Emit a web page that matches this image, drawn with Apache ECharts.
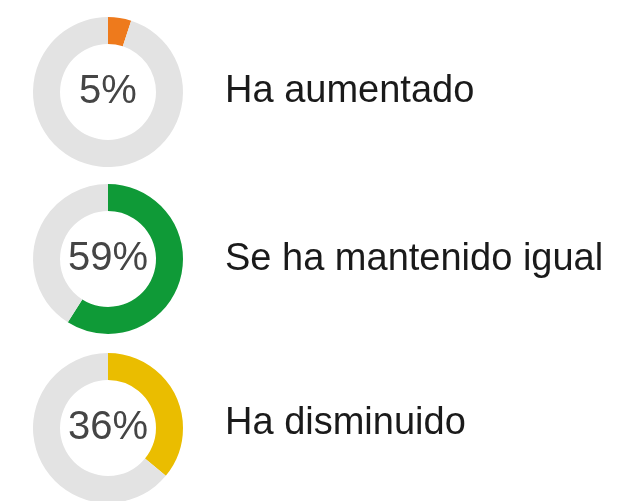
<!DOCTYPE html>
<html>
<head>
<meta charset="utf-8">
<script src="https://cdn.jsdelivr.net/npm/echarts@6/dist/echarts.min.js"></script>
<style>
  html, body { margin: 0; padding: 0; background: #fff; }
  #chart { width: 635px; height: 501px; }
</style>
</head>
<body>
<div id="chart"></div>
<script>
// categories and shares (%)
const categories = ["Ha aumentado", "Se ha mantenido igual", "Ha disminuido"];
const shares = [5, 59, 36];
const colors = ["#ee7a1c", "#0f9a37", "#eabd00"];

// layout
const ringY = [92, 259, 428];
const textY = [92, 260, 424];
const fontFamily = "Liberation Sans";

const chart = echarts.init(document.getElementById("chart"));

const series = categories.map(function (name, i) {
  return {
    type: "pie",
    name: name,
    center: [108, ringY[i]],
    radius: [48, 75],
    startAngle: 90,
    clockwise: true,
    silent: true,
    avoidLabelOverlap: false,
    labelLine: { show: false },
    data: [
      {
        value: shares[i],
        itemStyle: { color: colors[i] },
        label: {
          show: true,
          position: "center",
          formatter: shares[i] + "%",
          fontSize: 40,
          fontFamily: fontFamily,
          color: "#454545",
          padding: [3, 0, 0, 0]
        }
      },
      {
        value: 100 - shares[i],
        itemStyle: { color: "#e3e3e3" },
        label: { show: false }
      }
    ]
  };
});

const labels = categories.map(function (name, i) {
  return {
    type: "text",
    x: 225,
    y: textY[i],
    style: {
      text: name,
      fontSize: 38,
      fontFamily: fontFamily,
      fill: "#1a1a1a",
      verticalAlign: "middle"
    }
  };
});

chart.setOption({
  animation: false,
  series: series,
  graphic: labels
});
</script>
</body>
</html>
